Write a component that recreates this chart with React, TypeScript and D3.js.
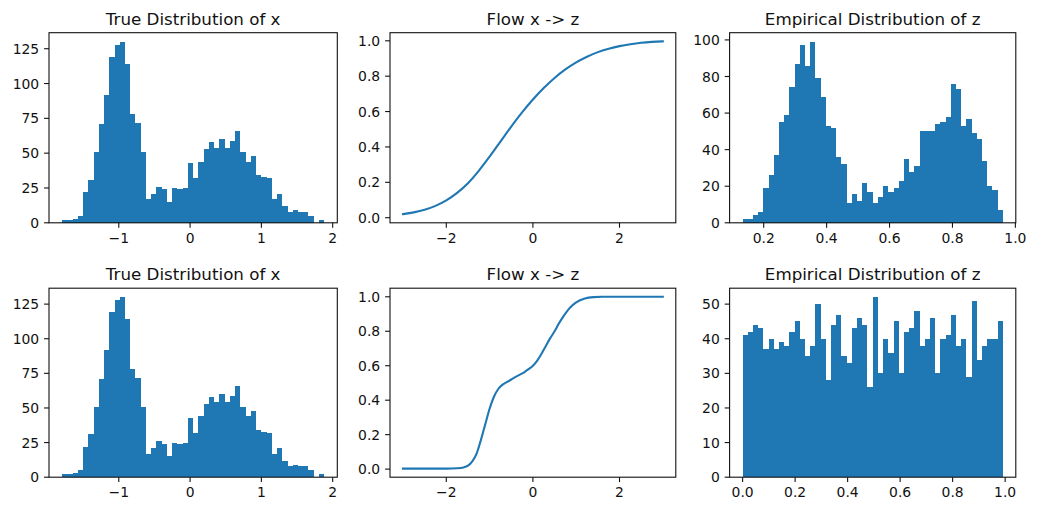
import React from "react";
import * as d3 from "d3";

// ---------- data ----------
const X_BIN_RANGE: [number, number] = [-1.795, 1.881];
const X_COUNTS = [2, 2, 3, 5, 22, 31, 51, 71, 92, 119, 128, 130, 114, 78, 72, 51, 17, 21, 26, 24, 15, 25, 24, 25, 43, 32, 44, 53, 58, 54, 60, 54, 59, 66, 51, 44, 48, 34, 33, 32, 17, 21, 12, 8, 9, 8, 8, 5, 0, 2];

const Z1_BIN_RANGE: [number, number] = [0.133, 0.96];
const Z1_COUNTS = [2, 2, 4, 6, 19, 26, 37, 55, 59, 74, 87, 97, 86, 99, 79, 69, 53, 52, 36, 32, 11, 16, 12, 22, 17, 11, 14, 20, 17, 19, 23, 35, 28, 31, 50, 50, 50, 54, 55, 58, 76, 73, 53, 57, 49, 46, 34, 20, 18, 7];

const Z2_BIN_RANGE: [number, number] = [0.0, 0.991];
const Z2_COUNTS = [41, 42, 44, 43, 37, 40, 37, 39, 38, 42, 45, 40, 35, 38, 50, 40, 28, 44, 47, 35, 33, 43, 46, 44, 26, 52, 30, 40, 36, 45, 30, 42, 43, 48, 38, 40, 46, 30, 40, 41, 47, 38, 40, 29, 51, 34, 38, 40, 40, 45];

const FLOW1_X = [-3, -2.75, -2.5, -2.25, -2, -1.75, -1.5, -1.25, -1, -0.75, -0.5, -0.25, 0, 0.25, 0.5, 0.75, 1, 1.25, 1.5, 1.75, 2, 2.25, 2.5, 2.75, 3];
const FLOW1_Z = [0.02, 0.03, 0.045, 0.067, 0.098, 0.14, 0.195, 0.265, 0.345, 0.43, 0.515, 0.595, 0.668, 0.733, 0.79, 0.838, 0.878, 0.91, 0.936, 0.955, 0.97, 0.981, 0.989, 0.994, 0.997];

const FLOW2_X = [-3, -2.5, -2, -1.75, -1.6, -1.5, -1.4, -1.3, -1.2, -1.1, -1.0, -0.9, -0.8, -0.7, -0.6, -0.5, -0.4, -0.3, -0.2, -0.1, 0, 0.1, 0.2, 0.3, 0.4, 0.5, 0.6, 0.7, 0.8, 0.9, 1.0, 1.2, 1.4, 1.6, 2, 2.5, 3];
const FLOW2_Z = [0.003, 0.003, 0.003, 0.005, 0.01, 0.02, 0.045, 0.09, 0.17, 0.26, 0.35, 0.42, 0.465, 0.49, 0.505, 0.52, 0.535, 0.548, 0.562, 0.58, 0.6, 0.63, 0.67, 0.715, 0.76, 0.8, 0.845, 0.885, 0.92, 0.948, 0.968, 0.99, 0.998, 1.0, 1.0, 1.0, 1.0];

const TITLES = ["True Distribution of x", "Flow x -> z", "Empirical Distribution of z"];
const X_TICKS_HIST = [-1, 0, 1, 2];
const Y_TICKS_HIST = [0, 25, 50, 75, 100, 125];
const X_TICKS_FLOW = [-2, 0, 2];
const Y_TICKS_FLOW = [0, 0.2, 0.4, 0.6, 0.8, 1.0];
const X_TICKS_Z1 = [0.2, 0.4, 0.6, 0.8, 1.0];
const Y_TICKS_Z1 = [0, 20, 40, 60, 80, 100];
const X_TICKS_Z2 = [0, 0.2, 0.4, 0.6, 0.8, 1.0];
const Y_TICKS_Z2 = [0, 10, 20, 30, 40, 50];

// ---------- styling / layout ----------
const W = 1037;
const H = 512;
const COLS: [number, number][] = [[49, 337.3], [390, 675.8], [729.6, 1015.8]];
const ROWS: [number, number][] = [[32.7, 222.8], [288.2, 477.2]];
const BLUE = "#1f77b4";
const FONT = "'DejaVu Sans', 'Liberation Sans', sans-serif";
const TICK_FS = 13.9;
const TITLE_FS = 16.7;
const TICK_LEN = 4.9;
const PAD = 4.9;
const INK = "#111";

const fmtInt = (v: number) => (v < 0 ? "\u2212" + Math.abs(v) : String(v));
const fmt1 = (v: number) => (v < 0 ? "\u2212" : "") + Math.abs(v).toFixed(1);

function pad5(lo: number, hi: number): [number, number] {
  const m = (hi - lo) * 0.05;
  return [lo - m, hi + m];
}

type PanelProps = {
  col: number;
  row: number;
  title: string;
  xDomain: [number, number];
  yDomain: [number, number];
  xTicks: number[];
  yTicks: number[];
  xFmt: (v: number) => string;
  yFmt: (v: number) => string;
  render: (x: d3.ScaleLinear<number, number>, y: d3.ScaleLinear<number, number>) => React.ReactNode;
};

function Panel(p: PanelProps) {
  const [l, r] = COLS[p.col];
  const [t, b] = ROWS[p.row];
  const x = d3.scaleLinear().domain(p.xDomain).range([l, r]);
  const y = d3.scaleLinear().domain(p.yDomain).range([b, t]);
  return (
    <g>
      {p.render(x, y)}
      <rect x={l} y={t} width={r - l} height={b - t} fill="none" stroke={INK} strokeWidth={1.1} />
      {p.xTicks.map((v) => (
        <g key={"x" + v}>
          <line x1={x(v)} x2={x(v)} y1={b} y2={b + TICK_LEN} stroke={INK} strokeWidth={1.1} />
          <text x={x(v)} y={b + TICK_LEN + PAD + 10.4} textAnchor="middle" fontSize={TICK_FS} fontFamily={FONT} fill={INK}>
            {p.xFmt(v)}
          </text>
        </g>
      ))}
      {p.yTicks.map((v) => (
        <g key={"y" + v}>
          <line x1={l - TICK_LEN} x2={l} y1={y(v)} y2={y(v)} stroke={INK} strokeWidth={1.1} />
          <text x={l - TICK_LEN - PAD} y={y(v)} dy="0.36em" textAnchor="end" fontSize={TICK_FS} fontFamily={FONT} fill={INK}>
            {p.yFmt(v)}
          </text>
        </g>
      ))}
      <text x={(l + r) / 2} y={t - 8} textAnchor="middle" fontSize={TITLE_FS} fontFamily={FONT} fill={INK}>
        {p.title}
      </text>
    </g>
  );
}

function histPanel(col: number, row: number, title: string, range: [number, number], counts: number[], xTicks: number[], yTicks: number[], xFmt: (v: number) => string) {
  const n = counts.length;
  const edges = d3.range(n + 1).map((i) => range[0] + (i * (range[1] - range[0])) / n);
  const maxC = d3.max(counts) as number;
  return (
    <Panel
      key={`${col}-${row}`}
      col={col}
      row={row}
      title={title}
      xDomain={pad5(range[0], range[1])}
      yDomain={[0, maxC * 1.05]}
      xTicks={xTicks}
      yTicks={yTicks}
      xFmt={xFmt}
      yFmt={fmtInt}
      render={(x, y) => (
        <g shapeRendering="crispEdges">
          {counts.map((c, i) =>
            c > 0 ? (
              <rect
                key={i}
                x={x(edges[i])}
                width={x(edges[i + 1]) - x(edges[i])}
                y={y(c)}
                height={y(0) - y(c)}
                fill={BLUE}
              />
            ) : null
          )}
        </g>
      )}
    />
  );
}

function flowPanel(col: number, row: number, xs: number[], zs: number[]) {
  const pts: [number, number][] = xs.map((v, i) => [v, zs[i]]);
  const xe = d3.extent(xs) as [number, number];
  const ze = d3.extent(zs) as [number, number];
  return (
    <Panel
      key={`${col}-${row}`}
      col={col}
      row={row}
      title={TITLES[1]}
      xDomain={pad5(xe[0], xe[1])}
      yDomain={pad5(ze[0], ze[1])}
      xTicks={X_TICKS_FLOW}
      yTicks={Y_TICKS_FLOW}
      xFmt={fmtInt}
      yFmt={fmt1}
      render={(x, y) => {
        const line = d3
          .line<[number, number]>()
          .x((d) => x(d[0]))
          .y((d) => y(d[1]))
          .curve(d3.curveMonotoneX);
        return <path d={line(pts) || ""} fill="none" stroke={BLUE} strokeWidth={2.1} strokeLinecap="square" />;
      }}
    />
  );
}

export default function App() {
  return (
    <svg width={W} height={H} viewBox={`0 0 ${W} ${H}`} style={{ position: "absolute", left: 0, top: 0, background: "#fff" }}>
      <rect x={0} y={0} width={W} height={H} fill="#fff" />
      {histPanel(0, 0, TITLES[0], X_BIN_RANGE, X_COUNTS, X_TICKS_HIST, Y_TICKS_HIST, fmtInt)}
      {flowPanel(1, 0, FLOW1_X, FLOW1_Z)}
      {histPanel(2, 0, TITLES[2], Z1_BIN_RANGE, Z1_COUNTS, X_TICKS_Z1, Y_TICKS_Z1, fmt1)}
      {histPanel(0, 1, TITLES[0], X_BIN_RANGE, X_COUNTS, X_TICKS_HIST, Y_TICKS_HIST, fmtInt)}
      {flowPanel(1, 1, FLOW2_X, FLOW2_Z)}
      {histPanel(2, 1, TITLES[2], Z2_BIN_RANGE, Z2_COUNTS, X_TICKS_Z2, Y_TICKS_Z2, fmt1)}
    </svg>
  );
}
